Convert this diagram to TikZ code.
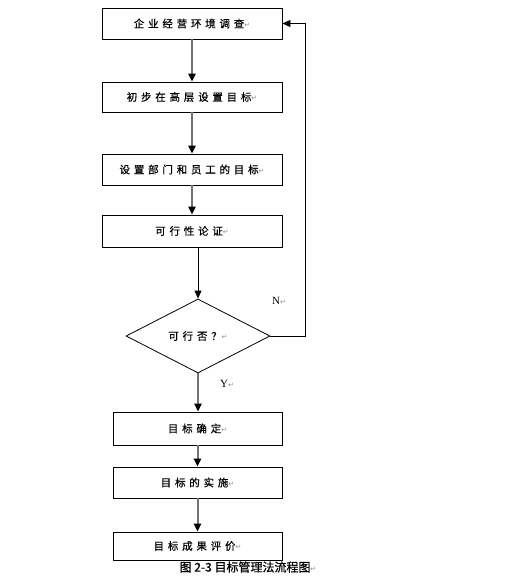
\documentclass[tikz,border=0pt]{standalone}
\usepackage{fontspec}
\setmainfont{Liberation Serif}
\newfontfamily\cjk[LetterSpace=36,FakeBold=0.6]{Noto Sans CJK SC}
\newfontfamily\cjkcap[FakeBold=0.8]{Noto Sans CJK SC}
\newfontfamily\symf{DejaVu Sans}
\usetikzlibrary{arrows.meta,shapes.geometric}
\newcommand{\pmark}{{\symf\fontsize{7}{7}\selectfont\color{black!45}↵}}

\begin{document}
\begin{tikzpicture}[x=1pt,y=-1pt,
  box/.style={draw,line width=0.8pt,minimum width=180pt,minimum height=31pt,inner sep=0pt,font=\cjk\fontsize{10.5}{10.5}\selectfont},
  lowbox/.style={box,minimum width=169pt},
  flow/.style={draw=black!55,line width=2pt,-{Triangle[color=black,width=7pt,length=8pt]}},
  thin flow/.style={flow,draw=black,line width=0.8pt}]
\useasboundingbox (0,0) rectangle (511,576);
\node[box] (survey) at (192,23.5) {企业经营环境调查\pmark};
\node[box,minimum height=30pt] (top) at (192,97) {初步在高层设置目标\pmark};
\node[box] (dept) at (192,169.5) {设置部门和员工的目标\pmark};
\node[box,minimum height=32pt] (check) at (192,231) {可行性论证\pmark};
\node[draw,diamond,line width=0.8pt,inner sep=0pt,aspect=1.95,minimum width=144pt,minimum height=74pt,font=\cjk\fontsize{10.5}{10.5}\selectfont] (ok) at (198,336) {可行否？\pmark};
\node[lowbox,minimum height=33pt] (fix) at (197.5,428.5) {目标确定\pmark};
\node[lowbox] (run) at (197.5,482.5) {目标的实施\pmark};
\node[lowbox,minimum height=28pt] (eval) at (197.5,546) {目标成果评价\pmark};
\coordinate (back) at (305,0);
\draw[flow] (survey) -- (top);
\draw[flow] (top) -- (dept);
\draw[flow] (dept) -- (check);
\draw[thin flow] (check.south -| ok.north) -- (ok.north);
\draw[flow] (ok.south) -- (fix.north -| ok.south);
\draw[flow] (fix) -- (run);
\draw[flow] (run) -- (eval);
\draw[thin flow] (ok.east) -- (ok.east -| back) |- (survey.east);
\node[font=\fontsize{11}{11}\selectfont] (no) at (279,301) {N\pmark};
\node[font=\fontsize{11}{11}\selectfont] (yes) at (227,384) {Y\pmark};
\node[font=\cjkcap\fontsize{12}{12}\selectfont] (cap) at (248,567) {图 2-3 目标管理法流程图\pmark};
\end{tikzpicture}
\end{document}
